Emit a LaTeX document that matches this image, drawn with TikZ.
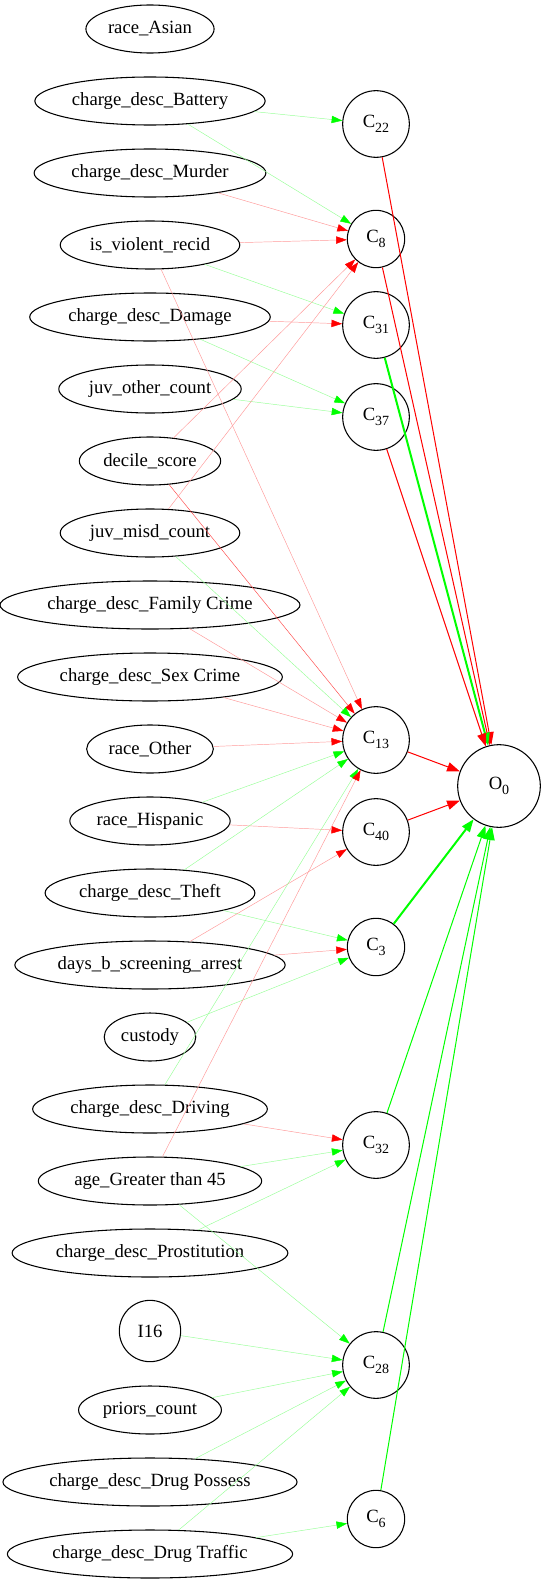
\documentclass[tikz,border=0pt]{standalone}
\usepackage{fontspec}
\setmainfont{Liberation Serif}
\usetikzlibrary{shapes.geometric,arrows.meta}
\newcommand\csub[1]{\raisebox{-3.5pt}{\fontsize{10.5}{12}\selectfont #1}}
\begin{document}
\begin{tikzpicture}[x=0.75pt,y=-0.75pt,font=\fontsize{14}{16}\selectfont,line join=round,
	feat/.style={draw,line width=0.8pt,ellipse,inner xsep=2.5pt,inner ysep=0pt,minimum height=36pt},
	hid/.style={draw,line width=0.8pt,circle,inner sep=0pt,minimum size=50pt},
	hids/.style={hid,minimum size=43pt},
	outn/.style={draw,line width=0.8pt,circle,inner sep=0pt,minimum size=62pt},
	lr/.style={-{Triangle[length=8pt,width=5.5pt,color=red]},red!40,line width=0.35pt},
	lg/.style={-{Triangle[length=8pt,width=5.5pt,color=green]},green!40,line width=0.35pt},
	orr/.style={-{Triangle[length=9.5pt,width=7pt]},red,line width=0.75pt},
	og/.style={-{Triangle[length=9.5pt,width=7pt]},green,line width=0.75pt}]
	\useasboundingbox (0,0) rectangle (546,1584);
	% inputs
	\path(150,29)node[feat](asian){race\_Asian}
	++(0,72)node[feat](batt){charge\_desc\_Battery}
	++(0,72)node[feat](murder){charge\_desc\_Murder}
	++(0,72)node[feat](viol){is\_violent\_recid}
	++(0,72)node[feat](damage){charge\_desc\_Damage}
	++(0,72)node[feat](juvo){juv\_other\_count}
	++(0,72)node[feat](dec){decile\_score}
	++(0,72)node[feat](juvm){juv\_misd\_count}
	++(0,72)node[feat](family){charge\_desc\_Family Crime}
	++(0,72)node[feat](sex){charge\_desc\_Sex Crime}
	++(0,72)node[feat](other){race\_Other}
	++(0,72)node[feat](hisp){race\_Hispanic}
	++(0,72)node[feat](theft){charge\_desc\_Theft}
	++(0,72)node[feat](days){days\_b\_screening\_arrest}
	++(0,72)node[feat](cust){custody}
	++(0,72)node[feat](driv){charge\_desc\_Driving}
	++(0,72)node[feat](age){age\_Greater than 45}
	++(0,72)node[feat](prost){charge\_desc\_Prostitution}
	++(0,78)node[draw,line width=0.8pt,circle,inner sep=0pt,minimum size=46pt](i16){I16}
	++(0,79)node[feat](prior){priors\_count}
	++(0,72)node[feat](possess){charge\_desc\_Drug Possess}
	++(0,72)node[feat](traffic){charge\_desc\_Drug Traffic};
	% hidden
	\path(376,124)node[hid](c22){C\csub{22}}
	(376,239)node[hids](c8){C\csub{8}}
	(376,325)node[hid](c31){C\csub{31}}
	(376,417)node[hid](c37){C\csub{37}}
	(376,740)node[hid](c13){C\csub{13}}
	(376,832)node[hid](c40){C\csub{40}}
	(376,947)node[hids](c3){C\csub{3}}
	(376,1145)node[hid](c32){C\csub{32}}
	(376,1365)node[hid](c28){C\csub{28}}
	(376,1519)node[hids](c6){C\csub{6}};
	\path(499,786)node[outn](o0){O\csub{0}};
	% input edges
	\draw[lg](batt)--(c22);
	\draw[lg](batt)--(c8);
	\draw[lr](murder)--(c8);
	\draw[lr](viol)--(c8);
	\draw[lg](viol)--(c31);
	\draw[lr](viol)--(c13);
	\draw[lr](damage)--(c31);
	\draw[lg](damage)--(c37);
	\draw[lg](juvo)--(c37);
	\draw[lr](dec)--(c8);
	\draw[lr,red!70](dec)--(c13);
	\draw[lr](juvm)--(c8);
	\draw[lg](juvm)--(c13);
	\draw[lr](family)--(c13);
	\draw[lr](sex)--(c13);
	\draw[lr](other)--(c13);
	\draw[lg](hisp)--(c13);
	\draw[lr](hisp)--(c40);
	\draw[lg](theft)--(c13);
	\draw[lg](theft)--(c3);
	\draw[lr](days)--(c40);
	\draw[lr](days)--(c3);
	\draw[lg](cust)--(c3);
	\draw[lg](driv)--(c13);
	\draw[lr](driv)--(c32);
	\draw[lr](age)--(c13);
	\draw[lg](age)--(c32);
	\draw[lg](age)--(c28);
	\draw[lg](prost)--(c32);
	\draw[lg](i16)--(c28);
	\draw[lg](prior)--(c28);
	\draw[lg](possess)--(c28);
	\draw[lg](traffic)--(c28);
	\draw[lg](traffic)--(c6);
	% output edges
	\draw[orr](c22)--(o0);
	\draw[orr](c8)--(o0);
	\draw[og,line width=1.5pt](c31)--(o0);
	\draw[orr](c37)--(o0);
	\draw[orr](c13)--(o0);
	\draw[orr](c40)--(o0);
	\draw[og,line width=1.5pt](c3)--(o0);
	\draw[og](c32)--(o0);
	\draw[og](c28)--(o0);
	\draw[og](c6)--(o0);
\end{tikzpicture}
\end{document}
